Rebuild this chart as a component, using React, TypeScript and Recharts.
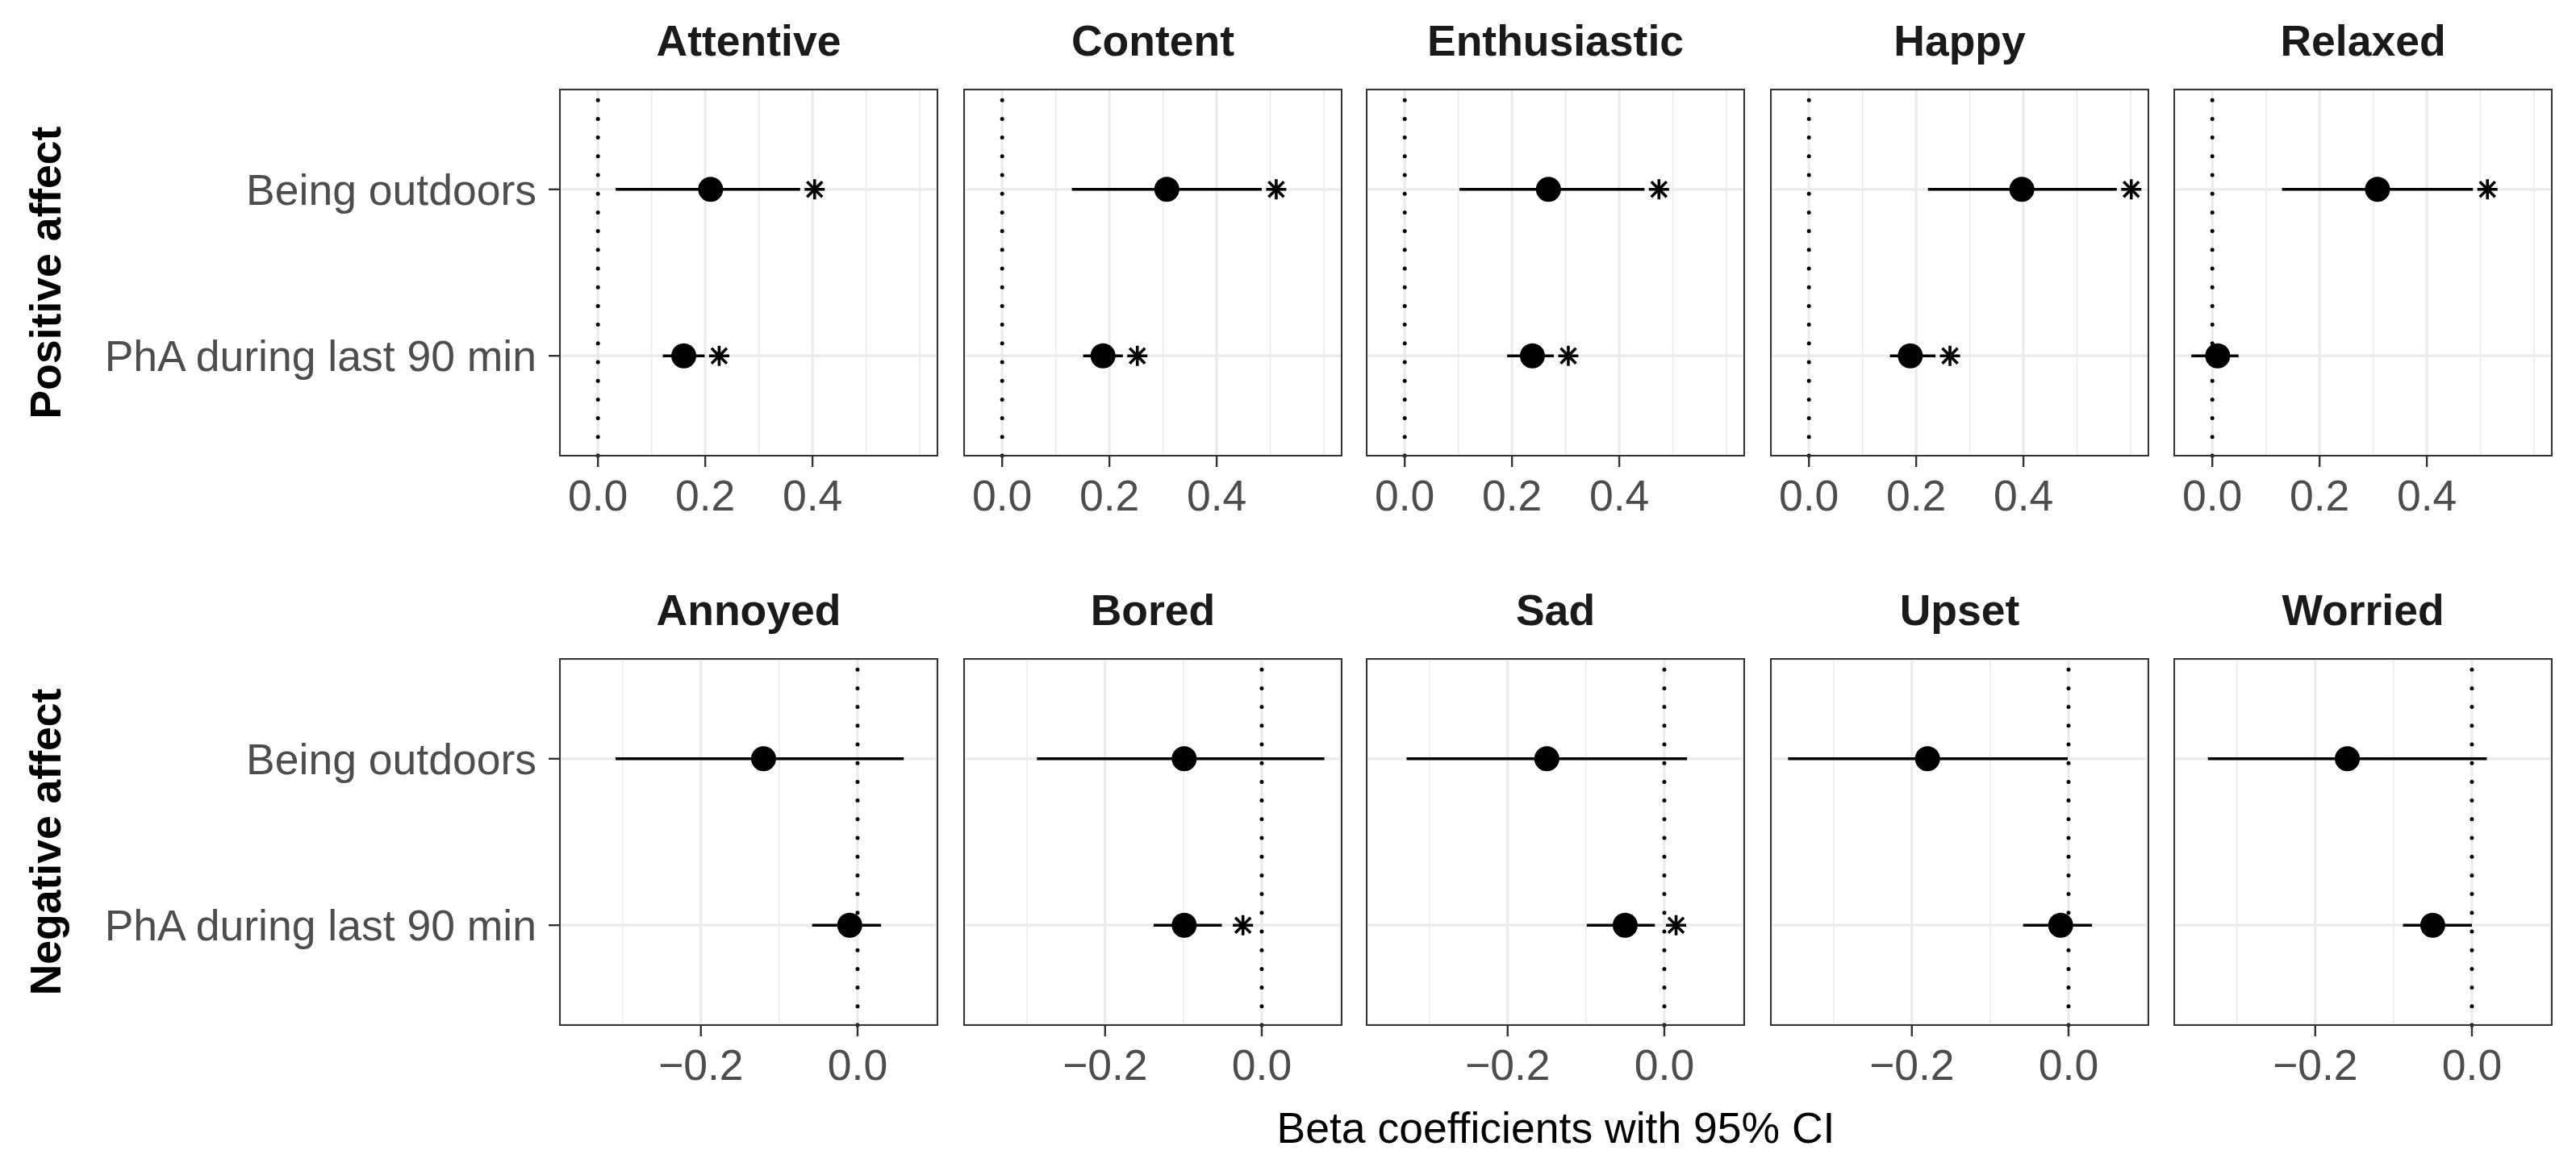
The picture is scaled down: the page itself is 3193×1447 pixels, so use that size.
import { ScatterChart, Scatter, XAxis, YAxis, CartesianGrid, ReferenceLine } from "recharts";

const FONT = '"Liberation Sans", Arial, Helvetica, sans-serif';

// outcomes, one panel each
const positiveOutcomes = ["Attentive", "Content", "Enthusiastic", "Happy", "Relaxed"];
const negativeOutcomes = ["Annoyed", "Bored", "Sad", "Upset", "Worried"];
const predictors = ["Being outdoors", "PhA during last 90 min"];

// beta estimates and 95% CI, order = positive outcomes then negative outcomes
const outdoorsEst = [0.21, 0.307, 0.268, 0.397, 0.308, -0.12, -0.099, -0.15, -0.18, -0.159];
const outdoorsLo = [0.033, 0.13, 0.102, 0.222, 0.13, -0.309, -0.287, -0.329, -0.358, -0.337];
const outdoorsHi = [0.377, 0.484, 0.447, 0.574, 0.486, 0.059, 0.08, 0.029, -0.001, 0.019];
const outdoorsSig = [true, true, true, true, true, false, false, false, false, false];

const phaEst = [0.16, 0.188, 0.238, 0.189, 0.01, -0.01, -0.099, -0.05, -0.01, -0.05];
const phaLo = [0.121, 0.151, 0.191, 0.151, -0.039, -0.058, -0.138, -0.099, -0.058, -0.088];
const phaHi = [0.199, 0.225, 0.278, 0.236, 0.049, 0.03, -0.051, -0.012, 0.03, 0.0];
const phaSig = [true, true, true, true, false, false, true, true, false, false];

// x scales, one per row (free x between rows)
const positiveDomain = [-0.071, 0.633];
const negativeDomain = [-0.38, 0.102];
const positiveTicks = [0, 0.2, 0.4];
const negativeTicks = [-0.2, 0];
const positiveMinor = [0.1, 0.3, 0.5, 0.6];
const negativeMinor = [-0.3, -0.1, 0.1];

const est = [outdoorsEst, phaEst];
const lo = [outdoorsLo, phaLo];
const hi = [outdoorsHi, phaHi];
const sig = [outdoorsSig, phaSig];

const STAR_GAP = 0.027; // asterisk sits just right of the upper CI
const PANEL_LEFT = [694, 1195, 1694, 2195, 2695];
const PANEL_W = 468;
const ROW_TOP = [111, 817];
const PANEL_H = 454;
const AXIS_H = 110;
const LABEL_W = 694;

const fmt = (v: number) => {
  const s = Math.abs(v).toFixed(1);
  return v < -1e-9 ? "\u2212" + s : s;
};

const Dot = (p: any) => <circle cx={p.cx} cy={p.cy} r={15.5} fill="#000" />;
const Blank = () => <g />;
const Star = (p: any) => {
  const { cx, cy } = p;
  const r = 12.5;
  const d = 9.5;
  return (
    <path
      d={`M${cx - r},${cy}L${cx + r},${cy}M${cx},${cy - r}L${cx},${cy + r}M${cx - d},${cy - d}L${cx + d},${cy + d}M${cx - d},${cy + d}L${cx + d},${cy - d}`}
      stroke="#000"
      strokeWidth={3.6}
    />
  );
};

function Panel({ title, idx, row, col }: { title: string; idx: number; row: number; col: number }) {
  const domain = row === 0 ? positiveDomain : negativeDomain;
  const ticks = row === 0 ? positiveTicks : negativeTicks;
  const minor = row === 0 ? positiveMinor : negativeMinor;
  const first = col === 0;
  const left = first ? PANEL_LEFT[col] - LABEL_W : PANEL_LEFT[col];
  const width = first ? LABEL_W + PANEL_W : PANEL_W;
  const top = ROW_TOP[row];

  const points = predictors.map((_, k) => ({ x: est[k][idx], y: 2 - k }));
  const stars = predictors
    .map((_, k) => ({ x: hi[k][idx] + STAR_GAP, y: 2 - k, s: sig[k][idx] }))
    .filter((d) => d.s);

  return (
    <>
      <div
        style={{
          position: "absolute",
          left: PANEL_LEFT[col] + PANEL_W / 2,
          top: top - 60,
          transform: "translate(-50%, -50%)",
          fontFamily: FONT,
          fontWeight: "bold",
          fontSize: 53.5,
          lineHeight: 1,
          color: "#1a1a1a",
          whiteSpace: "nowrap",
        }}
      >
        {title}
      </div>
      <div style={{ position: "absolute", left, top }}>
        <ScatterChart width={width} height={PANEL_H + AXIS_H} margin={{ top: 0, right: 0, bottom: 0, left: 0 }}>
          <CartesianGrid stroke="#EBEBEB" strokeWidth={3.2} />
          <CartesianGrid xAxisId="minor" horizontal={false} stroke="#EBEBEB" strokeWidth={1.6} />
          <XAxis
            type="number"
            dataKey="x"
            domain={domain}
            allowDataOverflow
            ticks={ticks}
            interval={0}
            tickFormatter={fmt}
            height={AXIS_H}
            axisLine={false}
            tickLine={{ stroke: "#333", strokeWidth: 2.4 }}
            tickSize={14}
            tickMargin={16}
            tick={{ fill: "#4D4D4D", fontSize: 53.5, fontFamily: FONT }}
          />
          <XAxis xAxisId="minor" type="number" dataKey="x" domain={domain} allowDataOverflow ticks={minor} interval={0} hide />
          <YAxis
            type="number"
            dataKey="y"
            domain={[0.4, 2.6]}
            allowDataOverflow
            ticks={[1, 2]}
            interval={0}
            tickFormatter={(v: number) => predictors[2 - v]}
            hide={!first}
            width={first ? LABEL_W : 0}
            axisLine={false}
            tickLine={{ stroke: "#333", strokeWidth: 2.4 }}
            tickSize={14}
            tickMargin={15}
            tick={{ fill: "#4D4D4D", fontSize: 53.5, fontFamily: FONT }}
          />
          <ReferenceLine x={0} stroke="#000" strokeWidth={5} strokeDasharray="0 23.2" strokeLinecap="round" />
          {predictors.map((_, k) => (
            <Scatter
              key={"ci" + k}
              data={[
                { x: lo[k][idx], y: 2 - k },
                { x: hi[k][idx], y: 2 - k },
              ]}
              line={{ stroke: "#000", strokeWidth: 3.6 }}
              shape={Blank}
              isAnimationActive={false}
            />
          ))}
          <Scatter data={points} shape={Dot} isAnimationActive={false} />
          <Scatter data={stars} shape={Star} isAnimationActive={false} />
        </ScatterChart>
      </div>
      <div
        style={{
          position: "absolute",
          left: PANEL_LEFT[col] - 1.2,
          top: top - 1.2,
          width: PANEL_W + 2.4,
          height: PANEL_H + 2.4,
          border: "2.4px solid #333",
          boxSizing: "border-box",
          pointerEvents: "none",
        }}
      />
    </>
  );
}

const rowLabel = (text: string, cy: number) => (
  <div
    style={{
      position: "absolute",
      left: 57,
      top: cy,
      transform: "translate(-50%, -50%) rotate(-90deg)",
      fontFamily: FONT,
      fontWeight: "bold",
      fontSize: 53.5,
      lineHeight: 1,
      color: "#000",
      whiteSpace: "nowrap",
    }}
  >
    {text}
  </div>
);

export default function App() {
  return (
    <div style={{ position: "absolute", left: 0, top: 0, width: 3193, height: 1447, background: "#fff", overflow: "hidden" }}>
      {positiveOutcomes.map((t, c) => (
        <Panel key={t} title={t} idx={c} row={0} col={c} />
      ))}
      {negativeOutcomes.map((t, c) => (
        <Panel key={t} title={t} idx={c + 5} row={1} col={c} />
      ))}
      {rowLabel("Positive affect", ROW_TOP[0] + PANEL_H / 2)}
      {rowLabel("Negative affect", ROW_TOP[1] + PANEL_H / 2)}
      <div
        style={{
          position: "absolute",
          left: PANEL_LEFT[0] + (PANEL_LEFT[4] + PANEL_W - PANEL_LEFT[0]) / 2,
          top: 1399,
          transform: "translate(-50%, -50%)",
          fontFamily: FONT,
          fontSize: 53.5,
          lineHeight: 1,
          color: "#000",
          whiteSpace: "nowrap",
        }}
      >
        Beta coefficients with 95% CI
      </div>
    </div>
  );
}
